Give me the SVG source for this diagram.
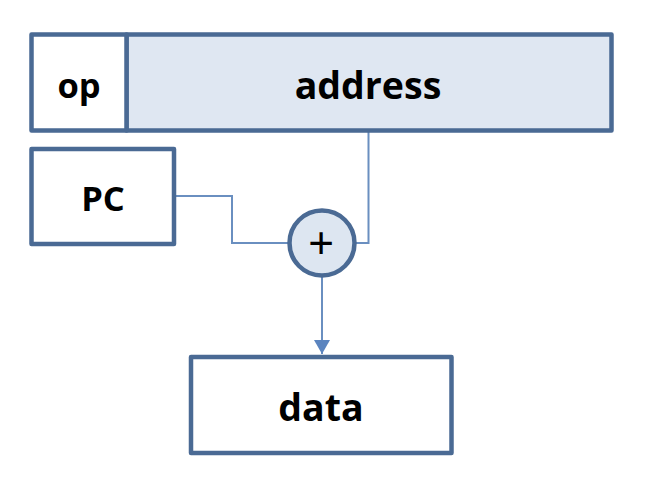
<svg xmlns="http://www.w3.org/2000/svg" width="660" height="502" viewBox="0 0 660 502">
<style>
.box{stroke:#4a6a94;stroke-width:4.5;stroke-linejoin:round}
.w{fill:#ffffff}
.b{fill:#dfe7f2}
.t{font-family:"Open Sans","Noto Sans",sans-serif;font-weight:bold;fill:#000;text-anchor:middle;dominant-baseline:central}
.c{stroke:#6a8fc0;stroke-width:2;fill:none}
</style>
<defs>
<marker id="ah" viewBox="0 0 14 16" refX="14" refY="8" markerWidth="14" markerHeight="16" markerUnits="userSpaceOnUse" orient="auto">
<path d="M0,0 L14,8 L0,16 Z" fill="#5b84bf"/>
</marker>
</defs>
<rect width="660" height="502" fill="#ffffff"/>
<g id="connectors">
<path class="c" d="M176,196 H232 V243 H289"/>
<path class="c" d="M368.5,131 V243 H355"/>
<line class="c" x1="322" y1="277" x2="322" y2="354" marker-end="url(#ah)"/>
</g>
<g id="address">
<rect class="box b" x="126.5" y="34.5" width="485" height="96"/>
<text class="t" x="368" y="84" font-size="37.5">address</text>
</g>
<g id="op">
<rect class="box w" x="31.5" y="34.5" width="95" height="96"/>
<text class="t" x="79" y="84" font-size="34.5">op</text>
</g>
<g id="pc">
<rect class="box w" x="31.5" y="149" width="142.5" height="95"/>
<text class="t" x="103" y="197" font-size="34.5">PC</text>
</g>
<g id="adder">
<circle class="box" cx="322" cy="243" r="32.5" fill="#dde6f1"/>
<text x="321" y="242" font-family="Liberation Sans,sans-serif" font-size="44" text-anchor="middle" dominant-baseline="central" fill="#000">+</text>
</g>
<g id="data">
<rect class="box w" x="191" y="357" width="260.5" height="96"/>
<text class="t" x="321" y="406" font-size="37.5">data</text>
</g>
</svg>
